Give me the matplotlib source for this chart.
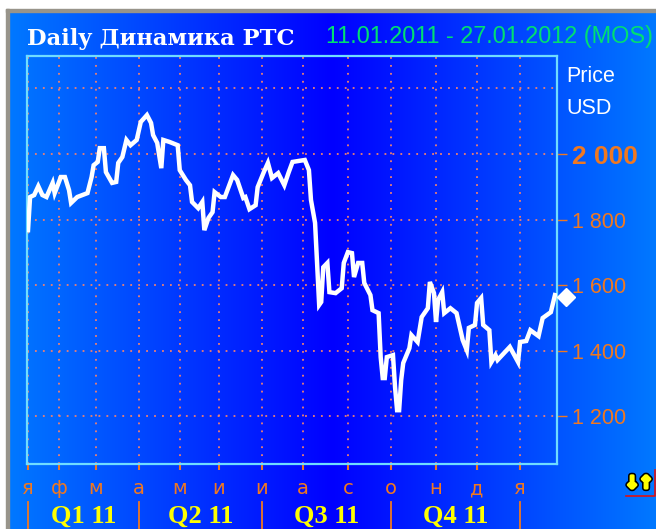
import numpy as np
import matplotlib
matplotlib.use("Agg")
import matplotlib.pyplot as plt
from matplotlib.colors import LinearSegmentedColormap
from matplotlib.patches import Rectangle
import matplotlib.patheffects as pe

# trading day index and close
day = [0, 1, 3, 5, 7, 9, 12, 13, 16, 18, 20, 21, 24, 29, 31, 32, 34, 35, 37, 38,
       41, 43, 44, 46, 48, 50, 53, 55, 58, 60, 61, 63, 65, 66, 69, 73, 74, 77, 79, 80,
       83, 85, 86, 88, 90, 91, 94, 96, 100, 102, 105, 106, 108, 111, 112, 115, 117, 119, 122, 125,
       127, 129, 135, 137, 138, 140, 141, 142, 143, 144, 146, 147, 150, 153, 154, 156, 158, 159, 161, 163,
       164, 167, 168, 171, 172, 173, 174, 175, 178, 179, 180, 181, 182, 183, 185, 186, 187, 190, 192, 195,
       196, 198, 199, 200, 202, 203, 206, 209, 212, 214, 215, 218, 219, 221, 222, 225, 226, 228, 229, 235,
       239, 240, 243, 245, 249, 251, 255, 257]
price = [1768, 1869, 1875, 1902, 1875, 1869, 1912, 1881, 1930, 1930, 1890, 1851, 1869, 1881, 1930, 1966, 1976, 2018, 2018, 1945,
         1912, 1915, 1973, 1991, 2043, 2027, 2043, 2098, 2119, 2095, 2058, 2034, 1957, 2043, 2037, 2027, 1951, 1921, 1905, 1854,
         1835, 1854, 1768, 1805, 1823, 1884, 1869, 1869, 1936, 1921, 1866, 1869, 1832, 1844, 1899, 1945, 1973, 1927, 1942, 1905,
         1942, 1976, 1982, 1951, 1860, 1790, 1662, 1540, 1549, 1655, 1668, 1579, 1576, 1591, 1668, 1701, 1698, 1625, 1668, 1668,
         1607, 1570, 1524, 1515, 1381, 1317, 1317, 1381, 1387, 1290, 1219, 1219, 1311, 1363, 1393, 1408, 1448, 1427, 1503, 1530,
         1610, 1576, 1488, 1555, 1579, 1515, 1530, 1515, 1433, 1402, 1470, 1479, 1546, 1561, 1479, 1463, 1366, 1387, 1372, 1412,
         1366, 1427, 1430, 1463, 1445, 1500, 1518, 1570]

month_days = [0, 15, 33, 54, 74, 93, 114, 134, 156, 177, 199, 219, 240]
month_labels = ['я', 'ф', 'м', 'а', 'м', 'и', 'и', 'а', 'с', 'о', 'н', 'д', 'я']
quarter_days = [0, 54, 114, 177, 240]
quarter_labels = ['Q1 11', 'Q2 11', 'Q3 11', 'Q4 11']
price_ticks = [1200, 1400, 1600, 1800, 2000, 2200]
price_labels = ['1 200', '1 400', '1 600', '1 800', '2 000', '']
last_price = 1564

ORANGE = '#f07820'
GRID = '#f08070'
FRAME = '#6fdcff'

fig = plt.figure(figsize=(6.56, 5.29), dpi=100, facecolor='white')

# background in pixel coordinates
bg = fig.add_axes([0, 0, 1, 1])
cmap = LinearSegmentedColormap.from_list('blues', ['#0078ff', '#0000ff', '#0078ff'])
bg.imshow(np.linspace(0, 1, 256).reshape(1, -1), cmap=cmap, aspect='auto',
          extent=[9, 656, 529, 12], zorder=1)
bg.set_xlim(0, 656)
bg.set_ylim(529, 0)
bg.axis('off')
bg.add_patch(Rectangle((6, 9), 650, 3, color='#98948a', zorder=2))
bg.add_patch(Rectangle((6, 9), 3, 520, color='#98948a', zorder=2))

bg.text(27, 39, 'Daily Динамика РТС', color='white', fontsize=16.3, fontweight='bold',
        family='DejaVu Serif', va='center', zorder=3)
bg.text(326, 36, '11.01.2011 - 27.01.2012 (MOS)', color='#00e070', fontsize=16.9,
        family='Liberation Sans', va='center', zorder=3)
bg.text(566, 77, 'Price', color='white', fontsize=15.5, family='Liberation Sans', va='center', zorder=3)
bg.text(566, 109, 'USD', color='white', fontsize=15.5, family='Liberation Sans', va='center', zorder=3)

# small arrows icon, bottom right
bg.text(639, 483, '↓↑', color='#ffff00', fontsize=12, fontweight='bold', ha='center', va='center',
        family='DejaVu Sans', zorder=3,
        path_effects=[pe.Stroke(linewidth=4.5, foreground='black'),
                      pe.Stroke(linewidth=2.2, foreground='#ffff00'), pe.Normal()])
bg.plot([626, 655, 655], [496, 496, 470], color='#e01010', lw=1.2, zorder=3)

ax = fig.add_axes([27 / 656, (529 - 464) / 529, 530 / 656, 408 / 529])
ax.patch.set_alpha(0)
ax.set_xlim(-0.5, 258)
ax.set_ylim(1055, 2299)

ax.set_xticks(month_days)
ax.set_xticklabels(month_labels, family='DejaVu Sans', fontsize=14, color=ORANGE)
ax.yaxis.tick_right()
ax.set_yticks(price_ticks)
ax.set_yticklabels(price_labels, family='Liberation Sans', fontsize=15.5, color=ORANGE)
ax.get_yticklabels()[4].set_fontweight('bold')
ax.get_yticklabels()[4].set_fontsize(19)
ax.tick_params(axis='x', length=4, width=1.5, color=ORANGE, pad=7)
ax.tick_params(axis='y', length=7, width=1, color=ORANGE, pad=4)
ax.yaxis.get_major_ticks()[5].tick2line.set_visible(False)
ax.grid(True, color=GRID, linestyle=(0, (1, 3.4)), linewidth=1.3)
ax.set_axisbelow(True)

for spine in ax.spines.values():
    spine.set_color(FRAME)
    spine.set_linewidth(1.6)

ax.plot(day, price, color='white', lw=3.2, solid_joinstyle='miter', zorder=3)
ax.plot([day[-1] + 5.5], [last_price], marker='D', color='white', ms=9, clip_on=False, zorder=4)

# quarter separators and labels under the month letters
trans = ax.get_xaxis_transform()
for d in quarter_days:
    ax.plot([d, d], [-0.093, -0.16], color=ORANGE, lw=1.3, transform=trans, clip_on=False)
for i, label in enumerate(quarter_labels):
    mid = (quarter_days[i] + quarter_days[i + 1]) / 2
    ax.text(mid, -0.127, label, color='#ffff00', fontsize=19, fontweight='bold', family='Liberation Serif',
            ha='center', va='center', transform=trans, clip_on=False)

fig.savefig('out.png', dpi=100)
